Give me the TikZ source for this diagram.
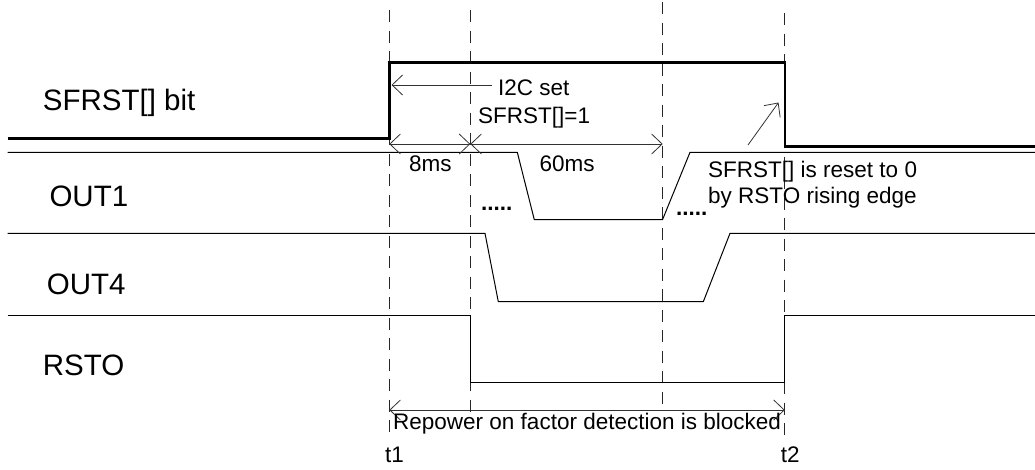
\documentclass[tikz,border=0pt]{standalone}
\usepackage{fontspec}
\setmainfont{Liberation Sans}
\usetikzlibrary{arrows.meta}
\begin{document}
\begin{tikzpicture}[x=1pt,y=-1pt,
  sig/.style={line width=1pt,line join=miter},
  bitsig/.style={line width=2.6pt,line join=miter},
  guide/.style={line width=0.9pt,dash pattern=on 12pt off 8.5pt,draw=black!85},
  dim/.style={line width=0.8pt,draw=black!80,{Straight Barb[length=10.5pt,width=20pt]}-{Straight Barb[length=10.5pt,width=20pt]}},
  ptr/.style={line width=0.8pt,draw=black!80,-{Straight Barb[length=10.5pt,width=20pt]}},
  big/.style={inner sep=0pt,anchor=base west,font=\fontsize{29.5}{34}\selectfont},
  small/.style={inner sep=0pt,anchor=base west,font=\fontsize{22.5}{27}\selectfont}]
\useasboundingbox (0,0) rectangle (1035,469);
% time marks
\coordinate (t1top) at (389.3,10);  \coordinate (t1bot) at (389.3,437);
\coordinate (tatop) at (470.3,10);  \coordinate (tabot) at (470.3,415);
\coordinate (tbtop) at (662.7,2);   \coordinate (tbbot) at (662.7,410);
\coordinate (t2top) at (784.8,13);  \coordinate (t2bot) at (784.8,437);
\draw[guide] (t1top) -- (t1bot);
\draw[guide] (tatop) -- (tabot);
\draw[guide] (tbtop) -- (tbbot);
\draw[guide] (t2top) -- (t2bot);
% signal labels
\node[big] (lsf) at (42.7,110) {SFRST[] bit};
\node[big] (lo1) at (49.3,206.7) {OUT1};
\node[big] (lo4) at (46.7,294) {OUT4};
\node[big] (lrs) at (42.7,375) {RSTO};
% waveforms
\draw[bitsig] (7.5,138.3) -- (389.3,138.3) -- (389.3,62.5) -- (784.8,62.5) -- (784.8,146.5) -- (1035,146.5);
\draw[sig] (7.5,152.3) -- (517.3,152.3) -- (534.3,219.7) -- (662.5,219.7) -- (690,152.3) -- (1035,152.3);
\draw[sig] (7.5,233.3) -- (485,233.3) -- (498.3,301.7) -- (703.3,301.7) -- (730,233.3) -- (1035,233.3);
\draw[sig] (7.5,315) -- (470.7,315) -- (470.7,382.7) -- (784.8,382.7) -- (784.8,315) -- (1035,315);
% dots
\node[small,font=\fontsize{22.5}{27}\selectfont\bfseries] (d1) at (481,210.7) {.....};
\node[small,font=\fontsize{22.5}{27}\selectfont\bfseries] (d2) at (676,215) {.....};
% dimension arrows
\coordinate (a8l) at (389.3,144); \coordinate (a8r) at (470.3,144); \coordinate (a60r) at (662.7,144);
\draw[dim] (a8l) -- (a8r);
\draw[dim] (a8r) -- (a60r);
\node[small] (t8) at (409,171.7) {8ms};
\node[small] (t60) at (539.3,171.7) {60ms};
% I2C set pointer
\coordinate (i2cs) at (492,85); \coordinate (i2ce) at (391.5,85);
\draw[ptr] (i2cs) -- (i2ce);
\node[small] (ti2c) at (498,95.7) {I2C set};
\node[small] (tsf1) at (478,123.3) {SFRST[]=1};
% reset pointer
\coordinate (rss) at (748,145); \coordinate (rse) at (778.5,102.5);
\draw[ptr] (rss) -- (rse);
\node[small] (tr1) at (708,177.7) {SFRST[] is reset to 0};
\node[small] (tr2) at (708,203.3) {by RSTO rising edge};
% blocked interval
\coordinate (bl) at (389.3,410); \coordinate (br) at (784.8,410);
\draw[dim] (bl) -- (br);
\node[small] (tbl) at (393,429.3) {Repower on factor detection is blocked};
\node[small] (tt1) at (385,462.5) {t1};
\node[small] (tt2) at (780.7,462.5) {t2};
\end{tikzpicture}
\end{document}
